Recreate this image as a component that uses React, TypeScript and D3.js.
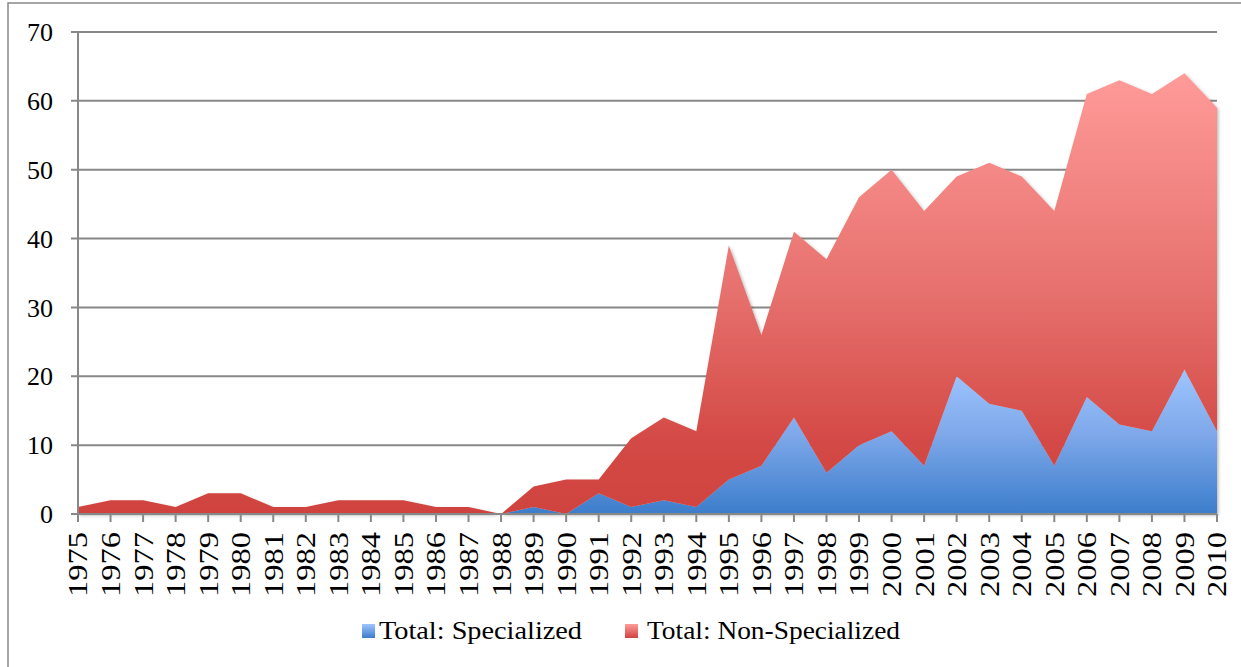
import React from "react";
import * as d3 from "d3";

const years: number[] = d3.range(1975, 2011);
const specialized: number[] = [
  0, 0, 0, 0, 0, 0, 0, 0, 0, 0, 0, 0, 0, 0, 1, 0, 3, 1, 2, 1,
  5, 7, 14, 6, 10, 12, 7, 20, 16, 15, 7, 17, 13, 12, 21, 12,
];
const totals: number[] = [
  1, 2, 2, 1, 3, 3, 1, 1, 2, 2, 2, 1, 1, 0, 4, 5, 5, 11, 14, 12,
  39, 26, 41, 37, 46, 50, 44, 49, 51, 49, 44, 61, 63, 61, 64, 59,
];
const nonSpecialized: number[] = totals.map((t, i) => t - specialized[i]);
const yTicks: number[] = [0, 10, 20, 30, 40, 50, 60, 70];
const seriesNames: string[] = ["Total: Specialized", "Total: Non-Specialized"];

export default function App() {
  const W = 1241;
  const H = 667;
  const left = 78;
  const right = 1217;
  const top = 32;
  const bottom = 514;

  const x = d3.scaleLinear().domain([0, years.length - 1]).range([left, right]);
  const y = d3.scaleLinear().domain([0, 70]).range([bottom, top]);

  const rows = years.map((yr, i) => ({
    year: yr,
    spec: specialized[i],
    non: nonSpecialized[i],
  }));
  const stacked = d3.stack<any>().keys(["spec", "non"])(rows as any);
  const area = d3
    .area<any>()
    .x((_d: any, i: number) => x(i))
    .y0((d: any) => y(d[0]))
    .y1((d: any) => y(d[1]));

  const font = "'Liberation Serif', 'Times New Roman', serif";
  const axisColor = "#888888";

  return (
    <svg
      width={W}
      height={H}
      style={{ position: "absolute", left: 0, top: 0, background: "#fff" }}
    >
      <defs>
        <linearGradient id="gBlue" x1="0" y1="0" x2="0" y2="1">
          <stop offset="0%" stopColor="#9EC5FF" />
          <stop offset="45%" stopColor="#7EA8EA" />
          <stop offset="100%" stopColor="#3C7DCB" />
        </linearGradient>
        <linearGradient id="gRed" x1="0" y1="0" x2="0" y2="1">
          <stop offset="0%" stopColor="#FF9B99" />
          <stop offset="50%" stopColor="#E6706D" />
          <stop offset="85%" stopColor="#D34844" />
          <stop offset="100%" stopColor="#D04340" />
        </linearGradient>
        <linearGradient id="gBlueL" x1="0" y1="0" x2="0" y2="1">
          <stop offset="0%" stopColor="#9EC5FF" />
          <stop offset="100%" stopColor="#3C7DCB" />
        </linearGradient>
        <linearGradient id="gRedL" x1="0" y1="0" x2="0" y2="1">
          <stop offset="0%" stopColor="#FF9B99" />
          <stop offset="100%" stopColor="#D04340" />
        </linearGradient>
        <filter id="shadow" x="-5%" y="-5%" width="110%" height="110%">
          <feDropShadow dx="1.5" dy="1.5" stdDeviation="1.5" floodColor="#000" floodOpacity="0.28" />
        </filter>
      </defs>

      <rect x={8} y={3} width={1300} height={720} fill="none" stroke={axisColor} strokeWidth={1.5} />

      {yTicks.map((t) => (
        <g key={t}>
          <line x1={left - 7} x2={t === 0 ? left : right} y1={y(t)} y2={y(t)} stroke={axisColor} strokeWidth={2} />
          <text
            x={53}
            y={y(t)}
            dy="0.35em"
            textAnchor="end"
            fontFamily={font}
            fontSize={26}
            fill="#000"
          >
            {t}
          </text>
        </g>
      ))}

      <g filter="url(#shadow)">
        {stacked.map((s: any, k: number) => (
          <path key={k} d={area(s) || ""} fill={k === 0 ? "url(#gBlue)" : "url(#gRed)"} />
        ))}
      </g>

      <line x1={left} x2={left} y1={top} y2={bottom} stroke={axisColor} strokeWidth={2} />
      <line x1={left - 7} x2={right} y1={bottom} y2={bottom} stroke={axisColor} strokeWidth={2} />

      {years.map((yr, i) => (
        <g key={yr}>
          <line x1={x(i)} x2={x(i)} y1={bottom} y2={bottom + 8} stroke={axisColor} strokeWidth={2} />
          <text
            transform={`translate(${x(i)},${532}) rotate(-90)`}
            dy="0.35em"
            textAnchor="end"
            fontFamily={font}
            fontSize={27}
            textLength={65}
            lengthAdjust="spacingAndGlyphs"
            fill="#000"
          >
            {yr}
          </text>
        </g>
      ))}

      <rect x={362} y={624} width={13} height={14} fill="url(#gBlueL)" />
      <text x={379} y={639} fontFamily={font} fontSize={26} textLength={203} lengthAdjust="spacingAndGlyphs" fill="#000">
        {seriesNames[0]}
      </text>
      <rect x={625} y={624} width={13} height={14} fill="url(#gRedL)" />
      <text x={647} y={639} fontFamily={font} fontSize={26} textLength={253} lengthAdjust="spacingAndGlyphs" fill="#000">
        {seriesNames[1]}
      </text>
    </svg>
  );
}
